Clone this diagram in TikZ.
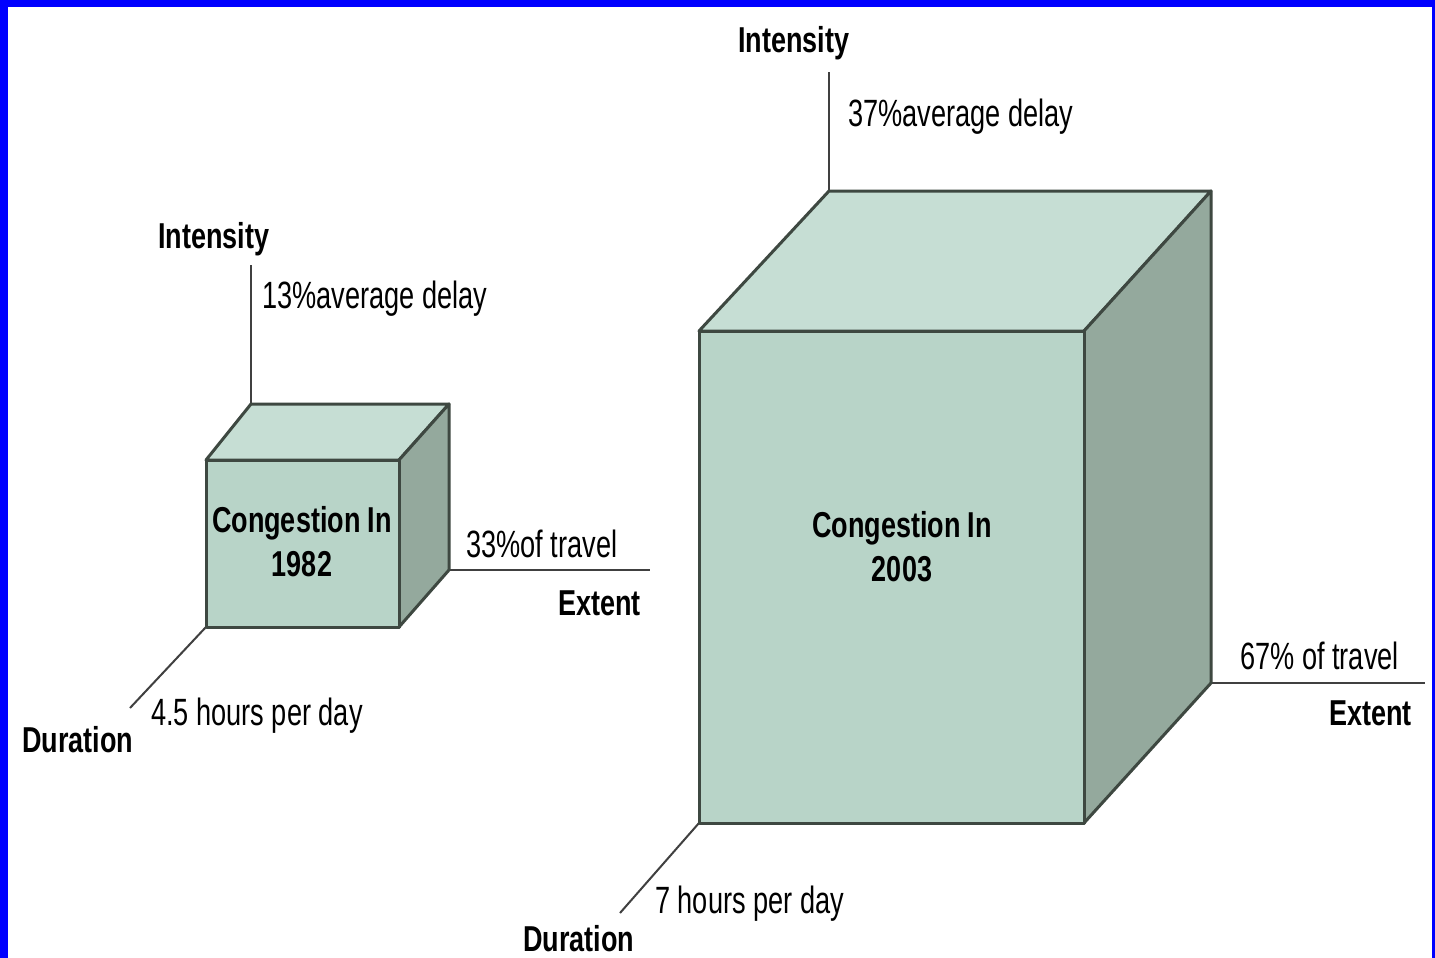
\documentclass[tikz,border=0pt]{standalone}
\usepackage{fontspec}
\newfontfamily\labfont[FakeStretch=0.715]{Liberation Sans}
\newfontfamily\labbf[FakeStretch=0.75]{Liberation Sans}
\definecolor{frontc}{HTML}{B8D4C8}
\definecolor{topc}{HTML}{C6DED4}
\definecolor{sidec}{HTML}{94A99D}
\definecolor{edgec}{HTML}{3E4841}
\definecolor{linec}{HTML}{404040}
\tikzset{
  face/.style={draw=edgec, line width=3pt, line join=round},
  conn/.style={draw=linec, line width=2pt},
  head/.style={inner sep=0pt, font=\labbf\bfseries\fontsize{36}{40}\selectfont},
  val/.style={inner sep=0pt, font=\labfont\fontsize{38}{42}\selectfont},
  title/.style={inner sep=0pt, align=center, font=\labbf\bfseries\fontsize{36}{44}\selectfont}
}
\begin{document}
\begin{tikzpicture}[x=1pt,y=-1pt]
\useasboundingbox (0,0) rectangle (1435,958);
\fill[white] (0,0) rectangle (1435,958);
\fill[blue] (0,0) rectangle (1435,7);
\fill[blue] (0,0) rectangle (8,958);
\fill[blue] (1432,0) rectangle (1435,958);

% small cube
\coordinate (s1) at (206,460);
\coordinate (s2) at (399,460);
\coordinate (s3) at (399,627);
\coordinate (s4) at (206,627);
\coordinate (s5) at (251,404);
\coordinate (s6) at (449,404);
\coordinate (s7) at (449,570);
\coordinate (si) at (251,265);
\coordinate (se) at (650,570);
\coordinate (sd) at (130,708);

\draw[conn] (s5) -- (si);
\draw[conn] (s7) -- (se);
\draw[conn] (s4) -- (sd);
\draw[face, fill=topc] (s1) -- (s5) -- (s6) -- (s2) -- cycle;
\draw[face, fill=sidec] (s2) -- (s6) -- (s7) -- (s3) -- cycle;
\draw[face, fill=frontc] (s1) -- (s2) -- (s3) -- (s4) -- cycle;

% big cube
\coordinate (b1) at (699,331);
\coordinate (b2) at (1084,331);
\coordinate (b3) at (1084,823);
\coordinate (b4) at (699,823);
\coordinate (b5) at (829,191);
\coordinate (b6) at (1211,191);
\coordinate (b7) at (1211,683);
\coordinate (bi) at (829,72);
\coordinate (be) at (1425,683);
\coordinate (bd) at (620,913);

\draw[conn] (b5) -- (bi);
\draw[conn] (b7) -- (be);
\draw[conn] (b4) -- (bd);
\draw[face, fill=topc] (b1) -- (b5) -- (b6) -- (b2) -- cycle;
\draw[face, fill=sidec] (b2) -- (b6) -- (b7) -- (b3) -- cycle;
\draw[face, fill=frontc] (b1) -- (b2) -- (b3) -- (b4) -- cycle;

% small labels
\node[head, anchor=west] (sint) at (158,239) {Intensity};
\node[val, anchor=west] (sintv) at (262,299) {13\%average delay};
\node[title] (stitle) at (302,542) {Congestion In\\1982};
\node[val, anchor=west] (sextv) at (466,544) {33\%of travel};
\node[head, anchor=east] (sext) at (641,603) {Extent};
\node[head, anchor=west] (sdur) at (22,740) {Duration};
\node[val, anchor=west] (sdurv) at (151,716) {4.5 hours per day};

% big labels
\node[head, anchor=west] (bint) at (738,43) {Intensity};
\node[val, anchor=west] (bintv) at (848,117) {37\%average delay};
\node[title] (btitle) at (902,547) {Congestion In\\2003};
\node[val, anchor=west] (bextv) at (1240,656) {67\% of travel};
\node[head, anchor=east] (bext) at (1412,713) {Extent};
\node[head, anchor=west] (bdur) at (523,939) {Duration};
\node[val, anchor=west] (bdurv) at (655,904) {7 hours per day};
\end{tikzpicture}
\end{document}
